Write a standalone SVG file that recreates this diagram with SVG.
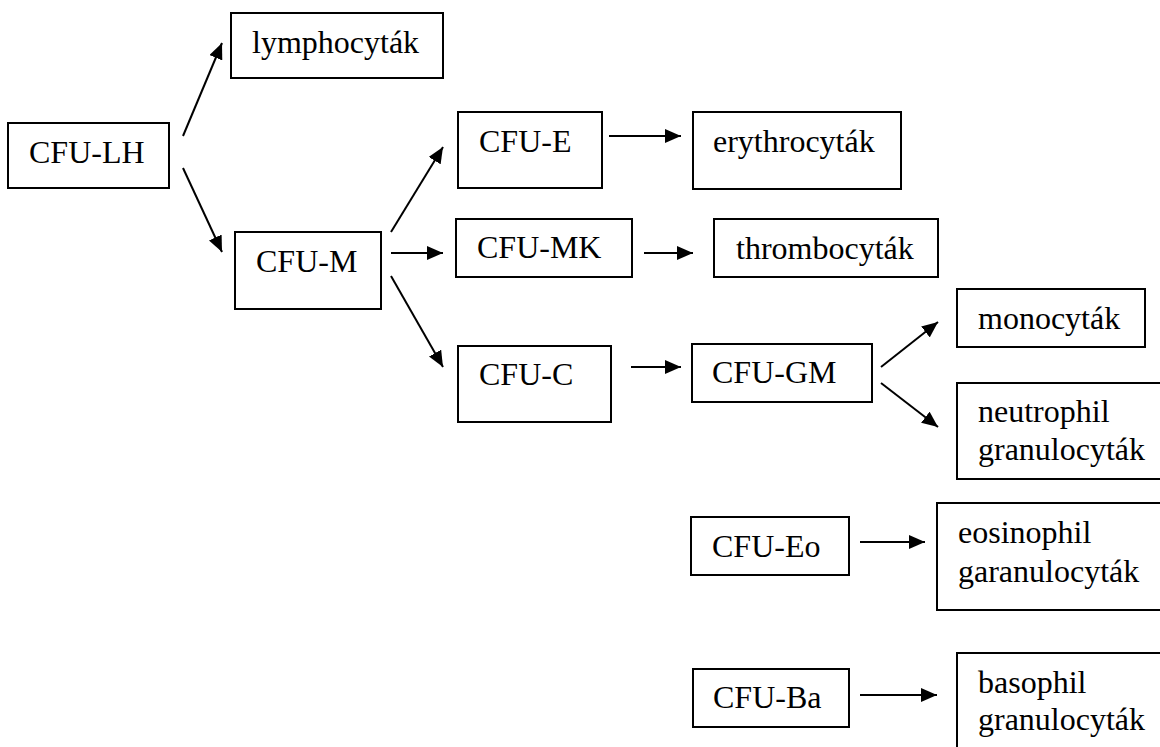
<svg xmlns="http://www.w3.org/2000/svg" width="1160" height="747" viewBox="0 0 1160 747">
<style>
.box{fill:#fff;stroke:#000;stroke-width:2}
text{font-family:'Liberation Serif','DejaVu Serif',serif;font-size:32px;fill:#000}
.c{stroke:#000;stroke-width:2;fill:none;marker-end:url(#ah)}
</style>
<defs>
<marker id="ah" markerUnits="userSpaceOnUse" markerWidth="16" markerHeight="14" refX="16" refY="7" orient="auto">
<path d="M0,0 L16,7 L0,14 Z" fill="#000"/>
</marker>
</defs>
<rect width="1160" height="747" fill="#fff"/>
<g id="connectors">
<line class="c" x1="183" y1="136" x2="222" y2="43"/>
<line class="c" x1="183" y1="168" x2="222" y2="252"/>
<line class="c" x1="391" y1="232" x2="443" y2="147"/>
<line class="c" x1="391" y1="253" x2="443" y2="253"/>
<line class="c" x1="391" y1="276" x2="443" y2="367"/>
<line class="c" x1="609" y1="136" x2="681" y2="136"/>
<line class="c" x1="644" y1="253" x2="693" y2="253"/>
<line class="c" x1="631" y1="367" x2="681" y2="367"/>
<line class="c" x1="881" y1="367" x2="938" y2="322"/>
<line class="c" x1="881" y1="383" x2="938" y2="427"/>
<line class="c" x1="860" y1="542" x2="925" y2="542"/>
<line class="c" x1="860" y1="695" x2="937" y2="695"/>
</g>
<g id="lymphocytak"><rect class="box" x="231" y="13" width="212" height="65"/><text x="252" y="53">lymphocyták</text></g>
<g id="cfu-lh"><rect class="box" x="8" y="123" width="161" height="65"/><text x="29" y="163">CFU-LH</text></g>
<g id="cfu-m"><rect class="box" x="235" y="232" width="146" height="77"/><text x="256" y="272">CFU-M</text></g>
<g id="cfu-e"><rect class="box" x="458" y="112" width="144" height="76"/><text x="479" y="152">CFU-E</text></g>
<g id="erythrocytak"><rect class="box" x="693" y="112" width="208" height="77"/><text x="713" y="152">erythrocyták</text></g>
<g id="cfu-mk"><rect class="box" x="456" y="219" width="176" height="58"/><text x="477" y="258">CFU-MK</text></g>
<g id="thrombocytak"><rect class="box" x="714" y="219" width="224" height="58"/><text x="736" y="259">thrombocyták</text></g>
<g id="cfu-c"><rect class="box" x="458" y="346" width="153" height="76"/><text x="479" y="385">CFU-C</text></g>
<g id="cfu-gm"><rect class="box" x="692" y="344" width="180" height="58"/><text x="712" y="383">CFU-GM</text></g>
<g id="monocytak"><rect class="box" x="957" y="289" width="188" height="58"/><text x="978" y="329">monocyták</text></g>
<g id="neutrophil"><rect class="box" x="957" y="383" width="210" height="96"/><text x="978" y="422">neutrophil</text><text x="978" y="460">granulocyták</text></g>
<g id="cfu-eo"><rect class="box" x="691" y="517" width="158" height="58"/><text x="712" y="557">CFU-Eo</text></g>
<g id="eosinophil"><rect class="box" x="937" y="503" width="230" height="107"/><text x="958" y="543">eosinophil</text><text x="958" y="582">garanulocyták</text></g>
<g id="cfu-ba"><rect class="box" x="693" y="669" width="156" height="58"/><text x="713" y="708">CFU-Ba</text></g>
<g id="basophil"><rect class="box" x="957" y="653" width="210" height="110"/><text x="978" y="693">basophil</text><text x="978" y="730">granulocyták</text></g>
</svg>
